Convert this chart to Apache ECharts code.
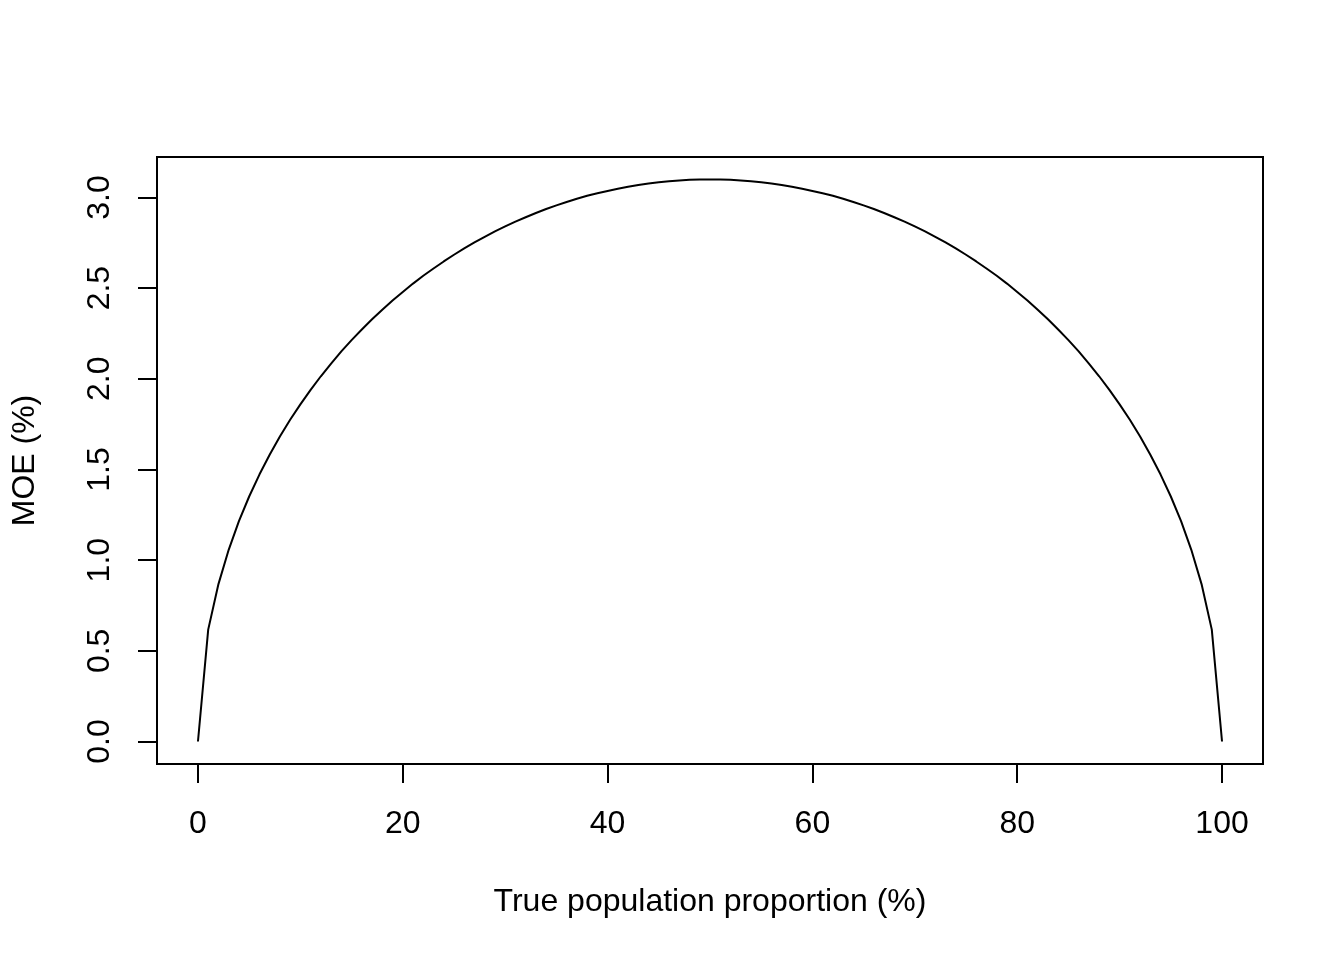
<!DOCTYPE html>
<html>
<head>
<meta charset="utf-8">
<script src="https://cdn.jsdelivr.net/npm/echarts@6/dist/echarts.min.js"></script>
<style>
  html, body { margin: 0; padding: 0; background: #fff; }
  #chart { width: 1344px; height: 960px; }
</style>
</head>
<body>
<div id="chart"></div>
<script>
// True population proportion (%)
const proportions = [
  0, 1, 2, 3, 4, 5, 6, 7, 8, 9, 10, 11, 12, 13, 14, 15, 16, 17, 18, 19, 20,
  21, 22, 23, 24, 25, 26, 27, 28, 29, 30, 31, 32, 33, 34, 35, 36, 37, 38, 39, 40,
  41, 42, 43, 44, 45, 46, 47, 48, 49, 50, 51, 52, 53, 54, 55, 56, 57, 58, 59, 60,
  61, 62, 63, 64, 65, 66, 67, 68, 69, 70, 71, 72, 73, 74, 75, 76, 77, 78, 79, 80,
  81, 82, 83, 84, 85, 86, 87, 88, 89, 90, 91, 92, 93, 94, 95, 96, 97, 98, 99, 100
];
// MOE (%)
const moe = [
  0.000, 0.617, 0.868, 1.057, 1.215, 1.351, 1.472, 1.581, 1.682, 1.774, 1.859,
  1.939, 2.014, 2.084, 2.151, 2.213, 2.272, 2.328, 2.381, 2.432, 2.479,
  2.525, 2.568, 2.608, 2.647, 2.684, 2.719, 2.752, 2.783, 2.813, 2.840,
  2.867, 2.891, 2.914, 2.936, 2.956, 2.975, 2.993, 3.009, 3.023, 3.036,
  3.048, 3.059, 3.069, 3.077, 3.084, 3.089, 3.094, 3.097, 3.099, 3.099,
  3.099, 3.097, 3.094, 3.089, 3.084, 3.077, 3.069, 3.059, 3.048, 3.036,
  3.023, 3.009, 2.993, 2.975, 2.956, 2.936, 2.914, 2.891, 2.867, 2.840,
  2.813, 2.783, 2.752, 2.719, 2.684, 2.647, 2.608, 2.568, 2.525, 2.479,
  2.432, 2.381, 2.328, 2.272, 2.213, 2.151, 2.084, 2.014, 1.939, 1.859,
  1.774, 1.682, 1.581, 1.472, 1.351, 1.215, 1.057, 0.868, 0.617, 0.000
];
const xTicks = [0, 20, 40, 60, 80, 100];
const yTicks = [0, 0.5, 1.0, 1.5, 2.0, 2.5, 3.0];
const xTitle = 'True population proportion (%)';
const yTitle = 'MOE (%)';

const FONT = '"Liberation Sans", Arial, Helvetica, sans-serif';
const chart = echarts.init(document.getElementById('chart'), null, { renderer: 'canvas' });
chart.setOption({
  animation: false,
  backgroundColor: '#ffffff',
  grid: {
    left: 157, right: 81, top: 157, bottom: 196,
    show: true, borderColor: '#000', borderWidth: 2, backgroundColor: 'transparent'
  },
  xAxis: {
    type: 'value',
    min: -4, max: 104,
    name: xTitle,
    nameLocation: 'middle',
    nameGap: 122,
    nameTextStyle: { fontFamily: FONT, fontSize: 32, color: '#000' },
    axisLine: { show: false, onZero: false },
    splitLine: { show: false },
    axisTick: { show: true, inside: false, length: 19, customValues: xTicks,
                lineStyle: { color: '#000', width: 2 } },
    axisLabel: { customValues: xTicks, margin: 44, fontFamily: FONT, fontSize: 32, color: '#000',
                 formatter: v => String(v) }
  },
  yAxis: {
    type: 'value',
    min: -0.124, max: 3.223,
    name: yTitle,
    nameLocation: 'middle',
    nameGap: 116,
    nameRotate: 90,
    nameTextStyle: { fontFamily: FONT, fontSize: 32, color: '#000' },
    axisLine: { show: false, onZero: false },
    splitLine: { show: false },
    axisTick: { show: true, inside: false, length: 19, customValues: yTicks,
                lineStyle: { color: '#000', width: 2 } },
    axisLabel: { customValues: yTicks, rotate: 90, margin: 41, fontFamily: FONT, fontSize: 32, color: '#000',
                 formatter: v => v.toFixed(1) }
  },
  series: [{
    type: 'line',
    data: proportions.map((p, i) => [p, moe[i]]),
    symbol: 'none',
    lineStyle: { color: '#000', width: 2 },
    clip: false
  }]
});
</script>
</body>
</html>
